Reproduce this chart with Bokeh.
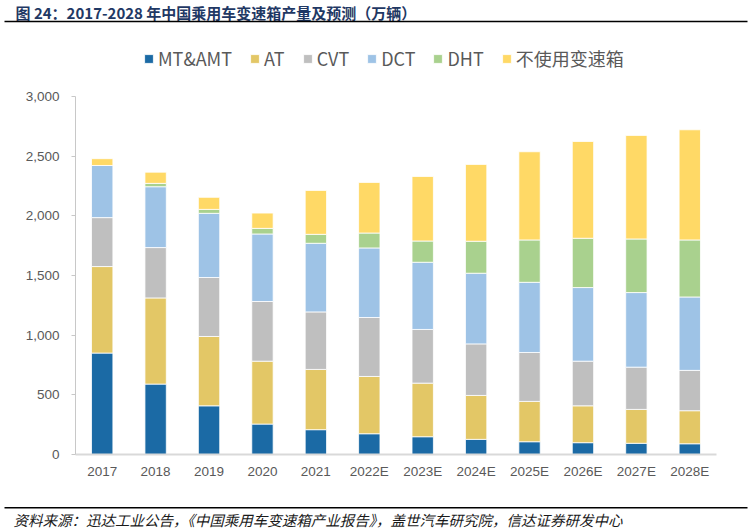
from bokeh.plotting import figure
from bokeh.layouts import column
from bokeh.models import (FactorRange, Range1d, FixedTicker, NumeralTickFormatter,
                          Label, BoxAnnotation, Legend)
from bokeh.embed import file_html
from bokeh.resources import INLINE

# ---- data (万辆) ----
years = ["2017", "2018", "2019", "2020", "2021", "2022E", "2023E",
         "2024E", "2025E", "2026E", "2027E", "2028E"]
mt_amt = [850, 590, 408, 255, 208, 174, 149, 127, 107, 99, 94, 90]
at_vals = [725, 722, 581, 527, 505, 480, 449, 368, 338, 309, 284, 277]
cvt_vals = [410, 422, 494, 500, 482, 494, 450, 432, 410, 374, 354, 338]
dct_vals = [437, 510, 538, 566, 575, 583, 563, 592, 588, 617, 625, 615]
dht_vals = [0, 28, 33, 47, 75, 125, 178, 268, 355, 413, 449, 478]
no_trans = [57, 94, 101, 128, 368, 424, 541, 644, 739, 811, 868, 923]

series_names = ["MT&AMT", "AT", "CVT", "DCT", "DHT", "不使用变速箱"]
series_keys = ["mt", "at", "cvt", "dct", "dht", "none"]
colors = ["#1b6aa5", "#e3c766", "#bfbfbf", "#9ec3e6", "#a9d18e", "#ffd966"]
y_ticks = [0, 500, 1000, 1500, 2000, 2500, 3000]

title_text = "图 24：2017-2028 年中国乘用车变速箱产量及预测（万辆）"
source_text = "资料来源：迅达工业公告，《中国乘用车变速箱产业报告》，盖世汽车研究院，信达证券研发中心"

data = dict(year=years, mt=mt_amt, at=at_vals, cvt=cvt_vals, dct=dct_vals,
            dht=dht_vals, none=no_trans)

W = 752
H_HEAD, H_MAIN, H_FOOT = 40, 460, 32


def panel_fig(h):
    # frame fills the whole canvas; y measured upward in pixels
    f = figure(width=W, height=h, x_range=Range1d(0, W), y_range=Range1d(0, h),
               x_axis_type=None, y_axis_type=None, output_backend="svg",
               toolbar_location=None, min_border=0, frame_align=False)
    f.outline_line_color = None
    f.grid.grid_line_color = None
    return f


# ---- header: title + rule (page y -> h - y) ----
head = panel_fig(H_HEAD)
head.add_layout(Label(x=15, y=H_HEAD - 11.5, text=title_text, text_font="Noto Sans CJK SC",
                      text_font_style="bold", text_font_size="15px",
                      text_color="#1f3864", text_baseline="middle"))
head.add_layout(BoxAnnotation(left=4, right=747, top=H_HEAD - 20.2, bottom=H_HEAD - 21.8,
                              fill_color="black", fill_alpha=1, line_alpha=0))

# ---- main chart ----
# frame spans page y 40..454; value 0 at 454, 3000 at 96
ML, MR, MB = 75, 36, 46
frame_h = H_MAIN - MB
y_top = 3000 * frame_h / (454 - 96)

p = figure(width=W, height=H_MAIN, x_range=FactorRange(*years, range_padding=0),
           y_range=Range1d(0, y_top), output_backend="svg", toolbar_location=None,
           min_border_left=ML, min_border_right=MR, min_border_top=0,
           min_border_bottom=MB, frame_align=False)
p.outline_line_color = None
p.grid.grid_line_color = None

rs = p.vbar_stack(series_keys, x="year", width=0.4, source=data,
                  fill_color=colors, line_color="white", line_width=0.8)

p.yaxis.ticker = FixedTicker(ticks=y_ticks)
p.yaxis.bounds = (0, 3000)
p.yaxis.formatter = NumeralTickFormatter(format="0,0")
p.yaxis.axis_line_color = "#c8c8c8"
p.yaxis.major_tick_line_color = "#c8c8c8"
p.yaxis.major_tick_in = 0
p.yaxis.major_tick_out = 4
p.yaxis.minor_tick_line_color = None
p.yaxis.major_label_standoff = 12
p.xaxis.axis_line_color = "#d9d9d9"
p.xaxis.axis_line_width = 2
p.xaxis.major_tick_line_color = None
p.xaxis.minor_tick_line_color = None
p.xaxis.major_label_standoff = 3
for ax in (p.xaxis, p.yaxis):
    ax.major_label_text_font = "Liberation Sans"
    ax.major_label_text_font_size = "13.5px"
    ax.major_label_text_color = "#595959"

# legend inside the (tall) frame; location = bottom-left, frame-relative, y up
legend = Legend(items=[(n, [r]) for n, r in zip(series_names, rs)],
                orientation="horizontal", location=(143 - ML, 454 - 71),
                glyph_width=11, glyph_height=11, label_standoff=4, spacing=17,
                padding=0, margin=0, border_line_color=None,
                background_fill_alpha=0, label_text_font="Noto Sans CJK SC",
                label_text_font_size="18px", label_text_color="#595959")
p.add_layout(legend)

# ---- footer: rule + source ----
foot = panel_fig(H_FOOT)
foot.add_layout(BoxAnnotation(left=4, right=747, top=H_FOOT - 6.4, bottom=H_FOOT - 8.0,
                              fill_color="black", fill_alpha=1, line_alpha=0))
foot.add_layout(Label(x=13, y=H_FOOT - 19, text=source_text, text_font="Noto Sans CJK SC",
                      text_font_style="italic", text_font_size="14.5px",
                      text_color="#1a1a1a", text_baseline="middle"))

layout = column(head, p, foot, spacing=0)
open("out.html", "w").write(file_html(layout, INLINE))
